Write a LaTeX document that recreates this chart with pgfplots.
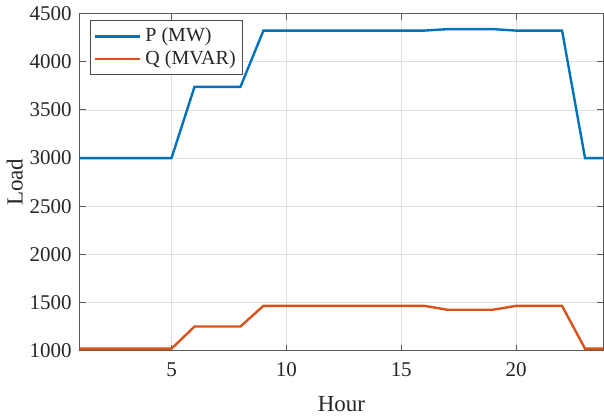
\documentclass[border=0pt]{standalone}
\usepackage{pgfplots}
\pgfplotsset{compat=1.18}
\usepackage{fontspec}
\setmainfont{Liberation Serif}
\definecolor{mblue}{rgb}{0,0.447,0.741}
\definecolor{morange}{rgb}{0.85,0.325,0.098}
\definecolor{txt}{RGB}{38,38,38}
\begin{document}
\begin{tikzpicture}
\begin{axis}[
  scale only axis,
  width=262pt, height=168.5pt,
  xmin=1, xmax=23.8, ymin=1000, ymax=4500,
  xtick={5,10,15,20},
  ytick={1000,1500,2000,2500,3000,3500,4000,4500},
  /pgf/number format/assume math mode=true,
  /pgf/number format/set thousands separator={},
  tick label style={font=\fontsize{10.5}{12}\selectfont, text=txt},
  label style={font=\fontsize{11.5}{13}\selectfont, text=txt},
  xticklabel style={yshift=-2.5pt},
  yticklabel style={xshift=-0.5pt},
  xlabel={Hour}, ylabel={Load},
  xlabel style={yshift=-3pt},
  ylabel style={yshift=-3.5pt},
  grid=major,
  major grid style={gray!25, line width=0.4pt},
  axis line style={gray!70!black, line width=0.6pt},
  tick style={gray!70!black, line width=0.5pt},
  tick align=inside,
  major tick length=3pt,
  legend style={at={(0.02,0.98)}, anchor=north west, draw=gray!60!black, line width=0.5pt,
    font=\fontsize{10}{12}\selectfont, text=txt, inner sep=1.5pt, row sep=-1pt},
  legend cell align=left,
  legend image post style={line width=1.2pt},
  legend image code/.code={\draw[#1] (0cm,0cm) -- (0.8cm,0cm);},
]
\addplot[mblue, line width=1.2pt] coordinates {
(1,3000)(2,3000)(3,3000)(4,3000)(5,3000)(6,3740)(7,3740)(8,3740)
(9,4325)(10,4325)(11,4325)(12,4325)(13,4325)(14,4325)(15,4325)(16,4325)
(17,4340)(18,4340)(19,4340)(20,4325)(21,4325)(22,4325)(23,3000)(24,3000)};
\addlegendentry{P (MW)}
\addplot[morange, line width=1.2pt] coordinates {
(1,1020)(2,1020)(3,1020)(4,1020)(5,1020)(6,1250)(7,1250)(8,1250)
(9,1465)(10,1465)(11,1465)(12,1465)(13,1465)(14,1465)(15,1465)(16,1465)
(17,1425)(18,1425)(19,1425)(20,1465)(21,1465)(22,1465)(23,1020)(24,1020)};
\addlegendentry{Q (MVAR)}
\end{axis}
\end{tikzpicture}
\end{document}
